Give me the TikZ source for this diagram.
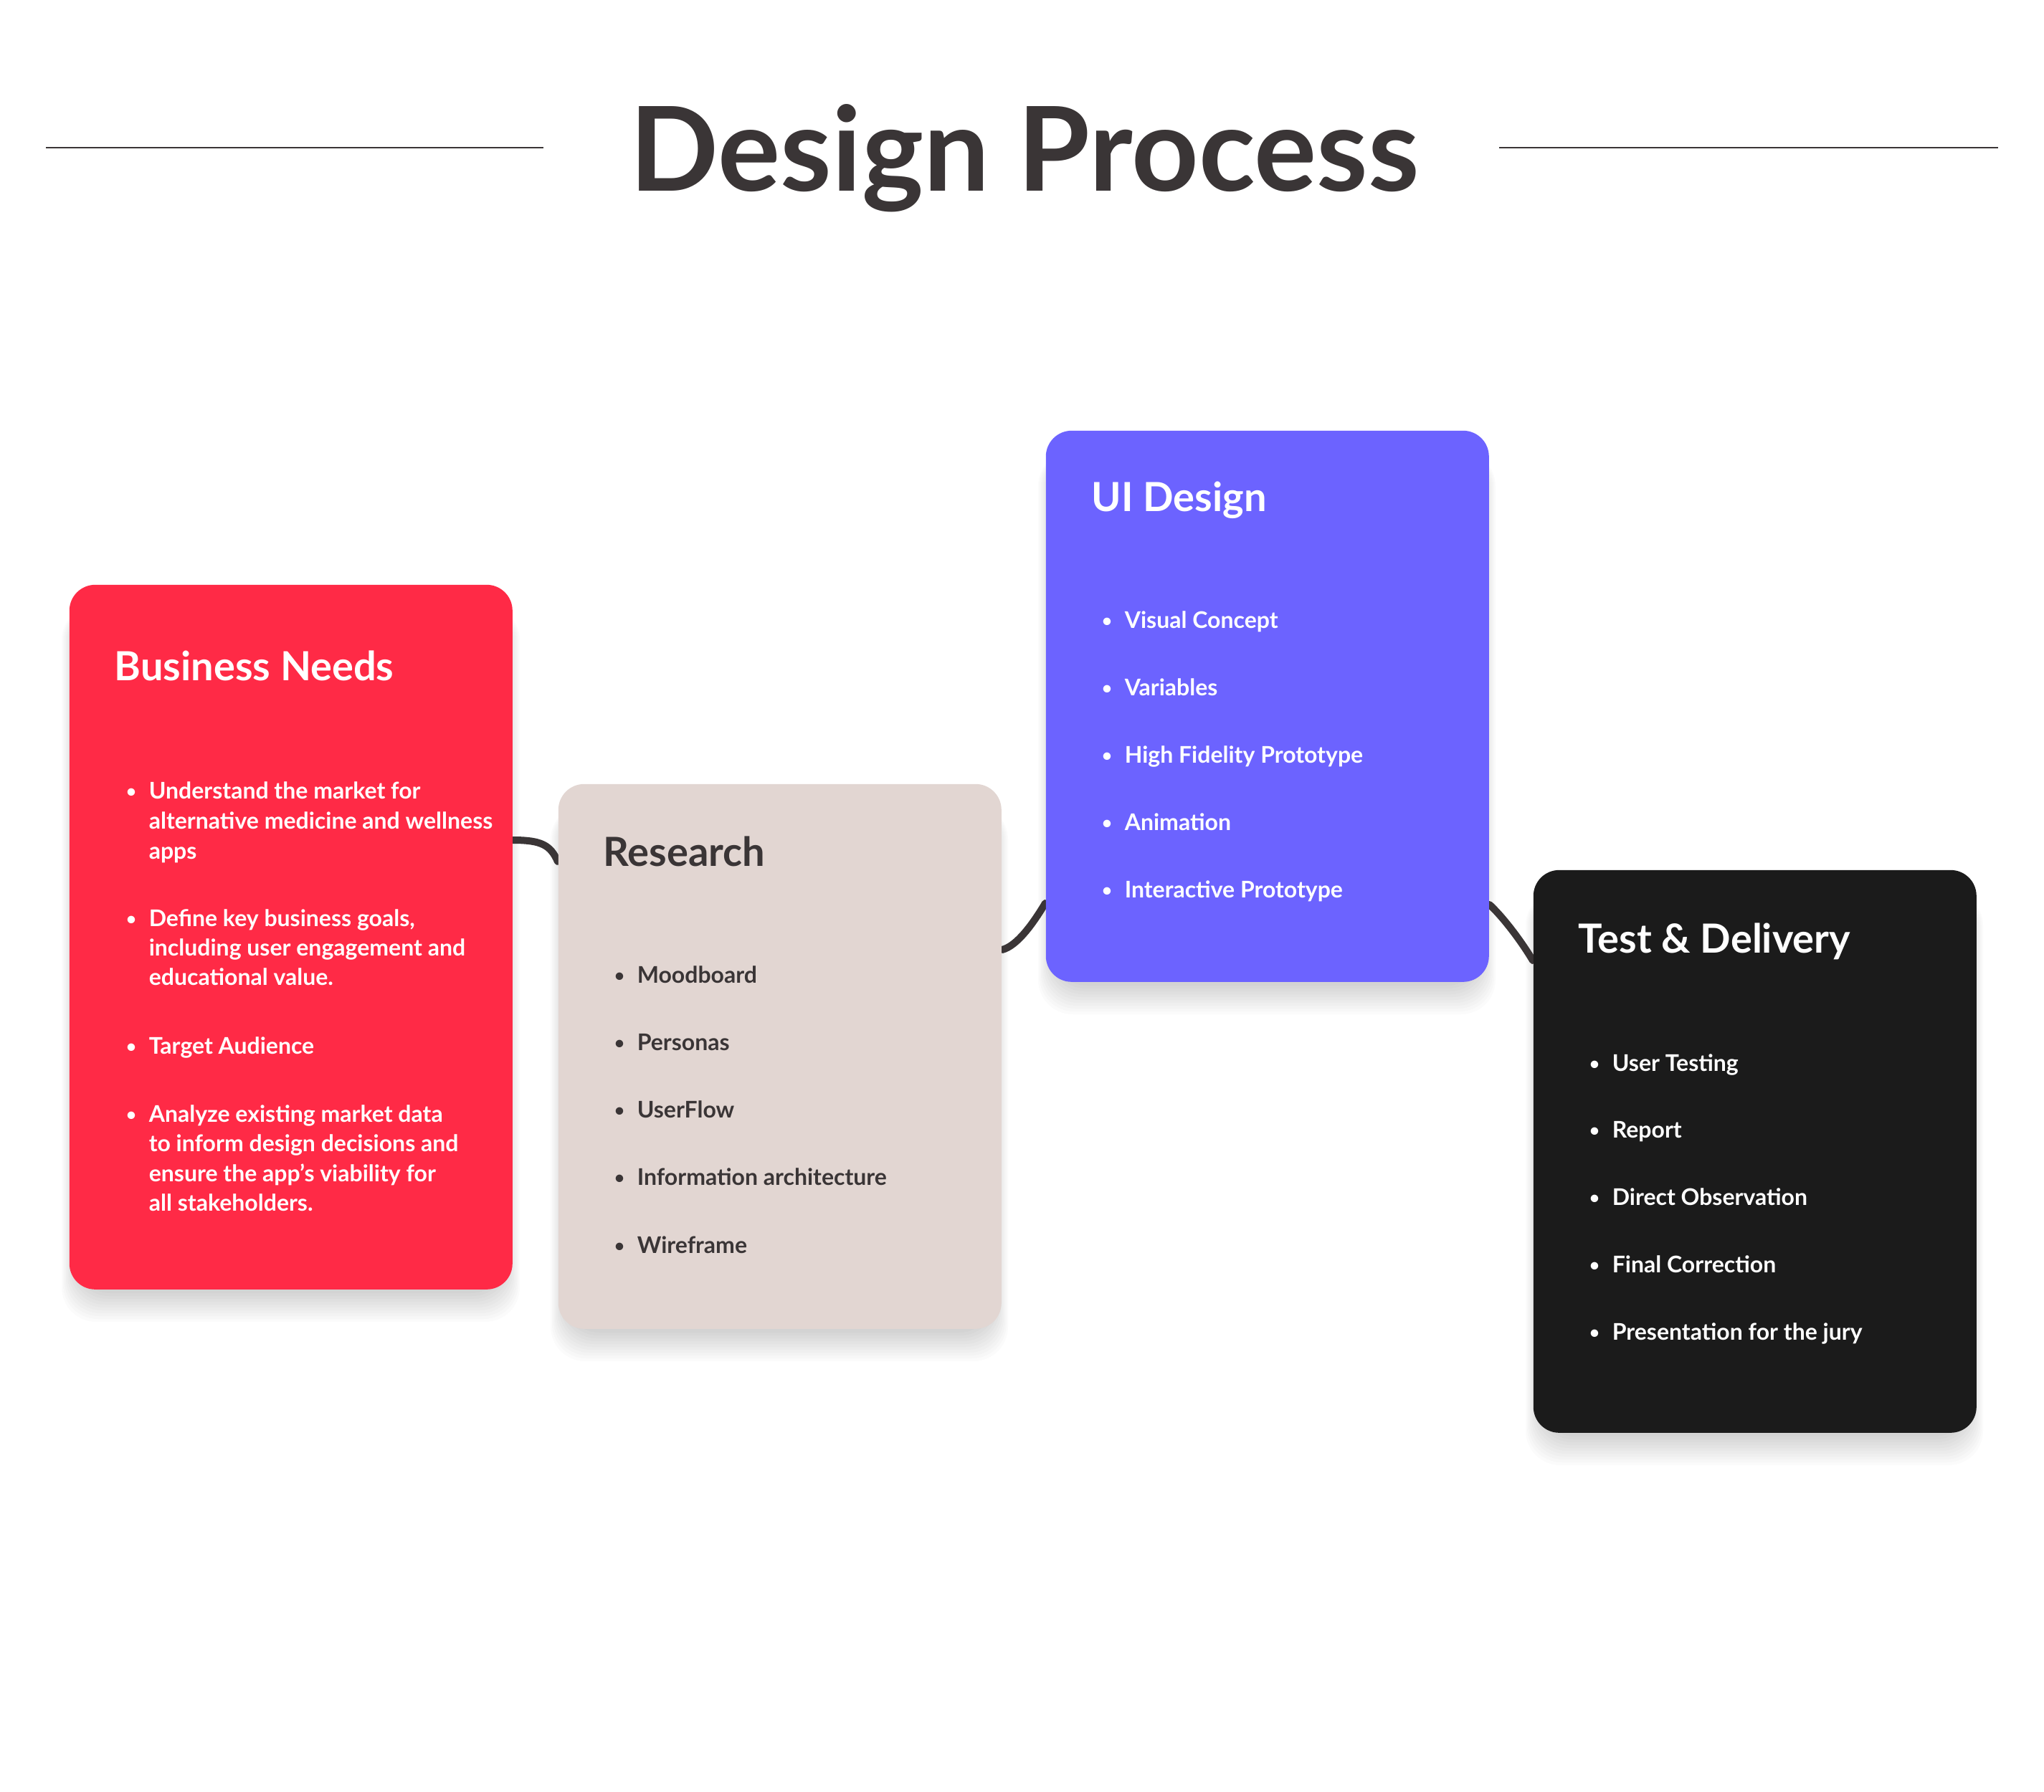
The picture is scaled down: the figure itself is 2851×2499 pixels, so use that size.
\documentclass[tikz,border=0pt]{standalone}
\usepackage{fontspec}
\setmainfont{Lato}
\usetikzlibrary{calc}
\pgfdeclarelayer{bg}
\pgfsetlayers{bg,main}
\definecolor{bnred}{HTML}{FF2A46}
\definecolor{rsbeige}{HTML}{E2D6D2}
\definecolor{uipurple}{HTML}{6C63FF}
\definecolor{tdblack}{HTML}{1B1B1B}
\definecolor{ink}{HTML}{3A3536}
\tikzset{
  card/.style={rounded corners=9pt, inner sep=0pt, draw=none, anchor=north west, minimum width=154.5pt},
  conn/.style={draw=ink, line width=2.5pt, line cap=round},
  bigtitle/.style={font=\bfseries\fontsize{40.8}{46}\selectfont, text=ink, anchor=base, inner sep=0pt},
  ttl/.style={font=\bfseries\fontsize{14}{17}\selectfont, anchor=base west, inner sep=0pt},
  body/.style={font=\bfseries\fontsize{8}{10}\selectfont, anchor=base west, inner sep=0pt},
  bul/.style={font=\bfseries\fontsize{6}{8}\selectfont, anchor=base, inner sep=0pt},
  rule/.style={draw=ink, line width=0.6pt},
  shade/.style={fill=black, opacity=0.014, rounded corners=12pt}
}
\newcommand\softshadow[4]{%
  \foreach \k in {1,...,11}{%
    \fill[shade] ({#1+12-\k*2},{#2+30}) rectangle ({#3-12+\k*2},{#4+2+\k*4});
  }}
\begin{document}
\begin{tikzpicture}[x=0.25pt,y=-0.25pt]
\useasboundingbox (0,0) rectangle (2851,2499);

% title
\node[bigtitle] (title) at (1429,266) {Design Process};
\draw[rule] (64,206) -- (758,206);
\draw[rule] (2091,206) -- (2787,206);

% cards
\node[card, fill=bnred, minimum height=245.75pt] (bn) at (96,815) {};
\node[card, fill=rsbeige, minimum height=190pt] (rs) at (778,1093) {};
\node[card, fill=uipurple, minimum height=192.25pt] (ui) at (1458,600) {};
\node[card, fill=tdblack, minimum height=196.25pt] (td) at (2138,1213) {};

\begin{pgfonlayer}{bg}
  \fill[white] (0,0) rectangle (2851,2499);
  \softshadow{96}{815}{715}{1798}
  \softshadow{778}{1093}{1396}{1853}
  \softshadow{1458}{600}{2076}{1369}
  \softshadow{2138}{1213}{2756}{1998}
  \coordinate (c1s) at (715,1172);
  \coordinate (c1e) at (781,1202);
  \coordinate (c2s) at (1396,1325);
  \coordinate (c2e) at (1460,1260);
  \coordinate (c3s) at (2076,1262);
  \coordinate (c3e) at (2140,1340);
  \draw[conn] (bn.east |- c1s) .. controls (755,1172) and (768,1179) .. (rs.west |- c1e);
  \draw[conn] (rs.east |- c2s) .. controls (1418,1320) and (1440,1290) .. (ui.west |- c2e);
  \draw[conn] (ui.east |- c3s) .. controls (2095,1278) and (2120,1310) .. (td.west |- c3e);
\end{pgfonlayer}

% Business Needs
\node[ttl, text=white] (bnT) at (159,949) {Business Needs};
\foreach \y/\n in {1114/1,1292/2,1470/3,1565/4}{\node[bul, text=white] (bnb\n) at (183,\y-2) {•};}
\foreach \t [count=\i] in {Understand the market for, alternative medicine and wellness, apps}
  {\node[body, text=white] (bna\i) at (207,{1114+42*(\i-1)}) {\t};}
\foreach \t [count=\i] in {{Define key business goals,}, including user engagement and, educational value.}
  {\node[body, text=white] (bnd\i) at (207,{1292+41*(\i-1)}) {\t};}
\node[body, text=white] (bnt1) at (207,1470) {Target Audience};
\foreach \t [count=\i] in {Analyze existing market data, to inform design decisions and, ensure the app's viability for, all stakeholders.}
  {\node[body, text=white] (bnz\i) at (207,{1565+41.5*(\i-1)}) {\t};}

% Research
\node[ttl, text=ink] (rsT) at (841,1208) {Research};
\foreach \t [count=\i] in {Moodboard, Personas, UserFlow, Information architecture, Wireframe}{
  \node[bul, text=ink] (rsb\i) at (864,{1369+94.3*(\i-1)}) {•};
  \node[body, text=ink] (rs\i) at (888,{1371+94.3*(\i-1)}) {\t};}

% UI Design
\node[ttl, text=white] (uiT) at (1522,713) {UI Design};
\foreach \t [count=\i] in {Visual Concept, Variables, High Fidelity Prototype, Animation, Interactive Prototype}{
  \node[bul, text=white] (uib\i) at (1544,{874+94*(\i-1)}) {•};
  \node[body, text=white] (ui\i) at (1568,{876+94*(\i-1)}) {\t};}

% Test & Delivery
\node[ttl, text=white] (tdT) at (2201,1329) {Test \& Delivery};
\foreach \t [count=\i] in {User Testing, Report, Direct Observation, Final Correction, Presentation for the jury}{
  \node[bul, text=white] (tdb\i) at (2224,{1492+93.8*(\i-1)}) {•};
  \node[body, text=white] (td\i) at (2248,{1494+93.8*(\i-1)}) {\t};}
\end{tikzpicture}
\end{document}
